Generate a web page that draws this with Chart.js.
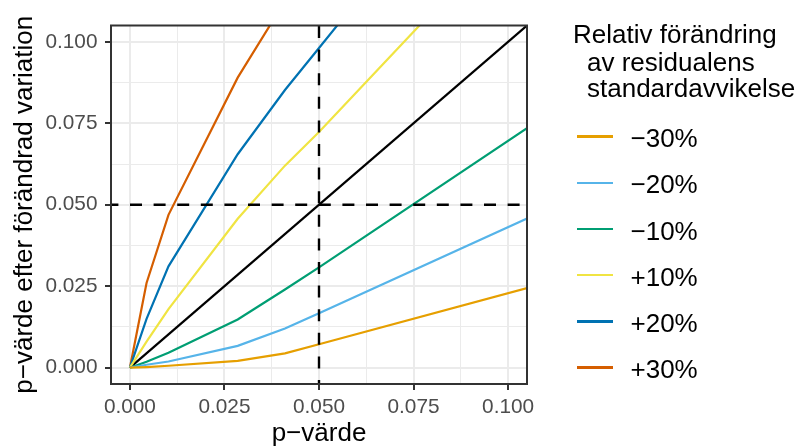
<!DOCTYPE html>
<html>
<head>
<meta charset="utf-8">
<script src="https://cdn.jsdelivr.net/npm/chart.js@4.4.1/dist/chart.umd.min.js"></script>
<style>
  html, body { margin: 0; padding: 0; background: #ffffff; }
  #wrap { position: relative; width: 802px; height: 448px; background: #ffffff; overflow: hidden; }
  #c { position: absolute; left: 0; top: 0; }
  .lg { position: absolute; font-family: "Liberation Sans", Arial, sans-serif; font-size: 26px; line-height: 26px; color: #000; white-space: pre; }
  .key { position: absolute; height: 2.6px; width: 36px; }
</style>
</head>
<body>
<div id="wrap">
  <canvas id="c" width="802" height="448"></canvas>
</div>
<script>
// ---- data ----
const pValues   = [0, 0.0044, 0.0102, 0.0285, 0.041, 0.05, 0.105];
const seriesLabels = ['\u221230%', '\u221220%', '\u221210%', '+10%', '+20%', '+30%'];
const minus30 = [0, 0.0002, 0.0006, 0.0021, 0.0044, 0.0072, 0.0244];
const minus20 = [0, 0.0009, 0.0019, 0.0067, 0.0120, 0.0167, 0.0458];
const minus10 = [0, 0.0018, 0.0046, 0.0148, 0.0240, 0.0308, 0.0735];
const plus10  = [0, 0.0080, 0.0180, 0.0457, 0.0620, 0.0723, 0.1400];
const plus20  = [0, 0.0150, 0.0311, 0.0655, 0.0852, 0.0981, 0.1770];
const plus30  = [0, 0.0260, 0.0469, 0.0890, 0.1125, null, null];
const seriesValues = [minus30, minus20, minus10, plus10, plus20, plus30];
const seriesColors = ['#E69F00', '#56B4E9', '#009E73', '#F0E442', '#0072B2', '#D55E00'];
const identityX = [0, 0.105];
const threshold = 0.05;
const axisMin = -0.005, axisMax = 0.105;
const majorTicks = [0, 0.025, 0.05, 0.075, 0.1];
const minorTicks = [0.0125, 0.0375, 0.0625, 0.0875];
const legendTitle = ['Relativ f\u00f6r\u00e4ndring', 'av residualens', 'standardavvikelse'];
const xTitle = 'p\u2212v\u00e4rde';
const yTitle = 'p\u2212v\u00e4rde efter f\u00f6r\u00e4ndrad variation';

const FONT = '"Liberation Sans", Arial, sans-serif';
const isMinor = v => minorTicks.some(m => Math.abs(m - v) < 1e-9);

const datasets = [];
// dashed reference lines (on top)
datasets.push({
  data: [{x: axisMin, y: threshold}, {x: axisMax, y: threshold}],
  borderColor: '#000', borderWidth: 2.4, borderDash: [12, 11.6], borderDashOffset: 4.6,
  pointRadius: 0, order: 0, clip: 0
});
datasets.push({
  data: [{x: threshold, y: axisMin}, {x: threshold, y: axisMax}],
  borderColor: '#000', borderWidth: 2.4, borderDash: [12, 11.6], borderDashOffset: 8,
  pointRadius: 0, order: 0, clip: 0
});
seriesValues.forEach((vals, i) => {
  datasets.push({
    label: seriesLabels[i],
    data: pValues.map((x, j) => ({x: x, y: vals[j]})),
    borderColor: seriesColors[i], borderWidth: 2.2, pointRadius: 0, tension: 0,
    order: 1, clip: 0
  });
});
datasets.push({
  data: identityX.map(x => ({x: x, y: x})),
  borderColor: '#000', borderWidth: 2.2, pointRadius: 0, order: 2, clip: 0
});

function setTicks(axis) {
  axis.ticks = majorTicks.concat(minorTicks).sort((a, b) => a - b).map(v => ({value: v}));
}
const gridOpts = {
  color: ctx => '#EBEBEB',
  lineWidth: ctx => (ctx.tick && isMinor(ctx.tick.value)) ? 1 : 2,
  drawTicks: true,
  tickLength: 6,
  tickColor: ctx => (ctx.tick && isMinor(ctx.tick.value)) ? 'rgba(0,0,0,0)' : '#333333',
  tickWidth: 2
};
const tickOpts = {
  font: {family: FONT, size: 20.8},
  color: '#4D4D4D',
  autoSkip: false,
  maxRotation: 0,
  callback: v => isMinor(v) ? '' : v.toFixed(3)
};

const borderPlugin = {
  id: 'panelBorder',
  afterDraw(chart) {
    const {ctx, chartArea: a} = chart;
    ctx.save();
    ctx.strokeStyle = '#333333';
    ctx.lineWidth = 2;
    ctx.strokeRect(a.left, a.top, a.right - a.left, a.bottom - a.top);
    ctx.restore();
  }
};

new Chart(document.getElementById('c'), {
  type: 'line',
  data: {datasets},
  options: {
    responsive: false,
    animation: false,
    devicePixelRatio: 1,
    layout: {padding: {left: 0, top: 25.5, right: 275, bottom: 0}},
    plugins: {legend: {display: false}, tooltip: {enabled: false}},
    scales: {
      x: {
        type: 'linear', min: axisMin, max: axisMax,
        afterBuildTicks: setTicks,
        afterFit: s => { s.height = 64; },
        grid: gridOpts,
        border: {display: false},
        ticks: Object.assign({}, tickOpts, {padding: 4.3}),
        title: {display: true, text: xTitle, color: '#000',
                font: {family: FONT, size: 26, lineHeight: 1.1}, padding: {top: 0, bottom: 0}}
      },
      y: {
        type: 'linear', min: axisMin, max: axisMax,
        afterBuildTicks: setTicks,
        afterFit: s => { s.width = 111; },
        grid: gridOpts,
        border: {display: false},
        ticks: Object.assign({}, tickOpts, {padding: 7.5}),
        title: {display: true, text: yTitle, color: '#000',
                font: {family: FONT, size: 26, lineHeight: 1.1}, padding: {top: 10.7, bottom: 0}}
      }
    }
  },
  plugins: [borderPlugin]
});

// ---- legend (HTML text) ----
const wrap = document.getElementById('wrap');
const titleLefts = [573, 587, 587];
const titleBaselines = [43.3, 71, 97.3];
legendTitle.forEach((t, i) => {
  const d = document.createElement('div');
  d.className = 'lg';
  d.textContent = t;
  d.style.left = titleLefts[i] + 'px';
  d.style.top = (titleBaselines[i] - 22) + 'px';
  wrap.appendChild(d);
});
seriesLabels.forEach((lab, i) => {
  const k = document.createElement('div');
  k.className = 'key';
  k.style.background = seriesColors[i];
  k.style.left = '577px';
  k.style.top = (136.7 + 46.15 * i - 1.3) + 'px';
  wrap.appendChild(k);
  const d = document.createElement('div');
  d.className = 'lg';
  d.textContent = lab;
  d.style.left = '630.5px';
  d.style.top = (147.3 + 46.15 * i - 22) + 'px';
  wrap.appendChild(d);
});
</script>
</body>
</html>
